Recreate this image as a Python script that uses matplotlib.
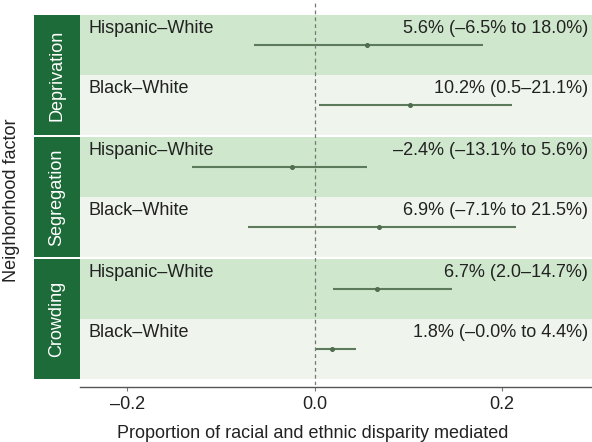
import matplotlib
matplotlib.use("Agg")
import matplotlib.pyplot as plt

plt.rcParams['font.family'] = ['Liberation Sans', 'DejaVu Sans']

factors = ["Deprivation", "Segregation", "Crowding"]
groups = ["Hispanic–White", "Black–White"]
est = [[0.056, 0.102], [-0.024, 0.069], [0.067, 0.018]]
lo = [[-0.065, 0.005], [-0.131, -0.071], [0.020, -0.000]]
hi = [[0.180, 0.211], [0.056, 0.215], [0.147, 0.044]]
labels = [["5.6% (–6.5% to 18.0%)", "10.2% (0.5–21.1%)"],
          ["–2.4% (–13.1% to 5.6%)", "6.9% (–7.1% to 21.5%)"],
          ["6.7% (2.0–14.7%)", "1.8% (–0.0% to 4.4%)"]]
xticks = [-0.2, 0.0, 0.2]
xticklabels = ["–0.2", "0.0", "0.2"]
xlim = (-0.2505, 0.296)

W, H = 592, 442
fig = plt.figure(figsize=(W / 100, H / 100), dpi=100)

band_dark = "#cfe7cc"
band_light = "#eff5ec"
strip_col = "#1d6b39"
line_col = "#5d7b5c"
txt_col = "#222222"
fs = 13

plot_left = 80 / W
plot_w = 1 - plot_left
panel_tops = [15, 137, 259]
panel_h = 120

for i, f in enumerate(factors):
    top = panel_tops[i]
    b = 1 - (top + panel_h) / H
    ax = fig.add_axes([plot_left, b, plot_w, panel_h / H])
    ax.set_xlim(*xlim)
    ax.set_ylim(0, 2)
    ax.axhspan(1, 2, color=band_dark, lw=0)
    ax.axhspan(0, 1, color=band_light, lw=0)
    for j, g in enumerate(groups):
        yc = 1.5 - j
        ax.plot([lo[i][j], hi[i][j]], [yc, yc], color=line_col, lw=1.5,
                solid_capstyle='butt', zorder=3)
        ax.plot([est[i][j]], [yc], 'o', color="#4e6e4e", ms=2.6, zorder=4)
        ax.annotate(g, xy=(0, yc + 0.27), xycoords=('axes fraction', 'data'),
                    xytext=(8, 0), textcoords='offset pixels',
                    ha='left', va='center', fontsize=fs, color=txt_col)
        ax.annotate(labels[i][j], xy=(1, yc + 0.27), xycoords=('axes fraction', 'data'),
                    xytext=(-4, 0), textcoords='offset pixels',
                    ha='right', va='center', fontsize=fs, color=txt_col)
    ax.set_yticks([])
    for s in ['top', 'right', 'left', 'bottom']:
        ax.spines[s].set_visible(False)
    if i < len(factors) - 1:
        ax.set_xticks([])
    else:
        ax.set_xticks(xticks)
        ax.set_xticklabels(xticklabels)
        ax.spines['bottom'].set_visible(True)
        ax.spines['bottom'].set_position(('outward', 6))
        ax.spines['bottom'].set_color('#555555')
        ax.spines['bottom'].set_linewidth(1.0)
        ax.tick_params(axis='x', length=3, width=0.8, color='#777777', pad=3,
                       labelsize=fs, labelcolor=txt_col)

    # strip
    sax = fig.add_axes([34 / W, b, 46 / W, panel_h / H])
    sax.set_facecolor(strip_col)
    sax.set_xticks([]); sax.set_yticks([])
    for s in sax.spines.values():
        s.set_visible(False)
    sax.text(0.5, 0.5, f, rotation=90, ha='center', va='center', color='white',
             fontsize=fs, transform=sax.transAxes)

# overlay for the zero reference line
oax = fig.add_axes([plot_left, 1 - 385 / H, plot_w, 385 / H])
oax.set_xlim(*xlim)
oax.patch.set_alpha(0)
oax.axis('off')
oax.axvline(0, color='#777777', lw=0.9, ls=(0, (3, 2.5)))

fig.text(313 / W, 1 - 433 / H, "Proportion of racial and ethnic disparity mediated",
         ha='center', va='center', fontsize=fs, color=txt_col)
fig.text(12 / W, 1 - 200 / H, "Neighborhood factor", rotation=90, ha='center', va='center',
         fontsize=fs, color=txt_col)

fig.savefig("out.png", dpi=100)
